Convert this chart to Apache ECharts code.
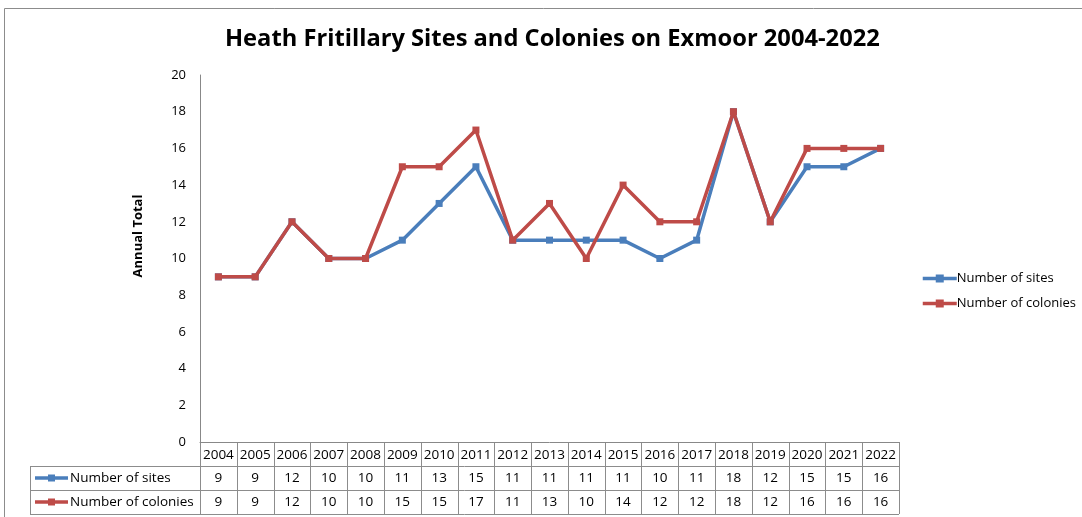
<!DOCTYPE html>
<html>
<head>
<meta charset="utf-8">
<script src="https://cdn.jsdelivr.net/npm/echarts@6/dist/echarts.min.js"></script>
<style>
  html, body { margin: 0; padding: 0; background: #fff; }
  #chart { width: 1082px; height: 517px; }
</style>
</head>
<body>
<div id="chart"></div>
<script>
// data
const years = ["2004", "2005", "2006", "2007", "2008", "2009", "2010", "2011", "2012", "2013",
  "2014", "2015", "2016", "2017", "2018", "2019", "2020", "2021", "2022"];
const sites = [9, 9, 12, 10, 10, 11, 13, 15, 11, 11, 11, 11, 10, 11, 18, 12, 15, 15, 16];
const colonies = [9, 9, 12, 10, 10, 15, 15, 17, 11, 13, 10, 14, 12, 12, 18, 12, 16, 16, 16];
const seriesNames = ["Number of sites", "Number of colonies"];
const colors = ["#4a7ebb", "#be4b48"];

const chart = echarts.init(document.getElementById("chart"));
const font = "'Open Sans', 'Liberation Sans', sans-serif";

let option = {
  animation: false,
  textStyle: { fontFamily: font },
  title: {
    text: "Heath Fritillary Sites and Colonies on Exmoor 2004-2022",
    left: 220,
    top: 22,
    textStyle: { fontSize: 23.7, fontWeight: "bold", color: "#000", fontFamily: font }
  },
  legend: {
    orient: "vertical",
    left: 916,
    top: 267,
    itemWidth: 34,
    itemHeight: 10,
    itemGap: 12,
    lineStyle: { width: 3.5 },
    textStyle: { fontSize: 13, color: "#000", padding: [0, 0, 0, -5] },
    data: seriesNames
  },
  grid: { left: 200, right: 183, top: 75, bottom: 75 },
  xAxis: {
    type: "category",
    data: years,
    boundaryGap: true,
    axisLine: { show: true, lineStyle: { color: "#888", width: 1 } },
    axisTick: { show: false },
    axisLabel: { show: false }
  },
  yAxis: {
    type: "value",
    min: 0,
    max: 20,
    interval: 2,
    axisLine: { show: true, lineStyle: { color: "#888", width: 1 } },
    axisTick: { show: false },
    splitLine: { show: false },
    axisLabel: { fontSize: 13, color: "#000", margin: 14 }
  },
  series: [
    {
      name: seriesNames[0],
      type: "line",
      data: sites,
      symbol: "rect",
      symbolSize: 7,
      lineStyle: { width: 3.5, color: colors[0] },
      itemStyle: { color: colors[0] },
      z: 2
    },
    {
      name: seriesNames[1],
      type: "line",
      data: colonies,
      symbol: "rect",
      symbolSize: 7,
      lineStyle: { width: 3.5, color: colors[1] },
      itemStyle: { color: colors[1] },
      z: 3
    }
  ]
};
chart.setOption(option);

// data table under the plot, placed from the axis scales
const centers = years.map((y, i) => chart.convertToPixel({ xAxisIndex: 0 }, i));
const band = centers[1] - centers[0];
const xLeft = centers[0] - band / 2;
const xRight = centers[centers.length - 1] + band / 2;
const y0 = chart.convertToPixel({ yAxisIndex: 0 }, 0);
const rowH = 24;
const tableLeft = 30;
const lineColor = "#8c8c8c";
const graphics = [];

function hline(x1, x2, y) {
  graphics.push({ type: "line", shape: { x1: x1, y1: y, x2: x2, y2: y },
    style: { stroke: lineColor, lineWidth: 1 }, silent: true });
}
function vline(x, y1, y2) {
  graphics.push({ type: "line", shape: { x1: x, y1: y1, x2: x, y2: y2 },
    style: { stroke: lineColor, lineWidth: 1 }, silent: true });
}
function cellText(txt, x, y, align) {
  graphics.push({ type: "text", x: x, y: y, silent: true,
    style: { text: txt, fill: "#000", font: "13.5px " + font,
      align: align || "center", verticalAlign: "middle" } });
}

hline(tableLeft, xRight, Math.round(y0 + rowH) + 0.5);
hline(tableLeft, xRight, Math.round(y0 + rowH * 2) + 0.5);
hline(tableLeft, xRight, Math.round(y0 + rowH * 3) + 0.5);
vline(tableLeft + 0.5, y0 + rowH, y0 + rowH * 3);
for (let i = 0; i <= years.length; i++) {
  vline(Math.round(xLeft + band * i) + 0.5, y0, y0 + rowH * 3);
}
years.forEach((yr, i) => {
  cellText(yr, centers[i], y0 + rowH / 2 + 1);
  cellText(String(sites[i]), centers[i], y0 + rowH * 1.5);
  cellText(String(colonies[i]), centers[i], y0 + rowH * 2.5);
});
[sites, colonies].forEach((arr, k) => {
  const yc = y0 + rowH * (1.5 + k);
  graphics.push({ type: "line", shape: { x1: tableLeft + 5, y1: yc, x2: tableLeft + 38, y2: yc },
    style: { stroke: colors[k], lineWidth: 3.5 }, silent: true });
  graphics.push({ type: "rect", shape: { x: tableLeft + 18, y: yc - 3.5, width: 7, height: 7 },
    style: { fill: colors[k] }, silent: true });
  cellText(seriesNames[k], tableLeft + 40, yc, "left");
});

// y axis title, Excel places it a little above the middle
graphics.push({ type: "text", x: 138, y: 236, rotation: Math.PI / 2, silent: true,
  style: { text: "Annual Total", fill: "#000", font: "bold 13px " + font,
    align: "center", verticalAlign: "middle" } });

// outer chart border
graphics.push({ type: "rect", shape: { x: 4.5, y: 8.5, width: 1100, height: 600 },
  style: { fill: "none", stroke: "#8c8c8c", lineWidth: 1 }, silent: true, z: -1 });

chart.setOption({ graphic: graphics });
</script>
</body>
</html>
